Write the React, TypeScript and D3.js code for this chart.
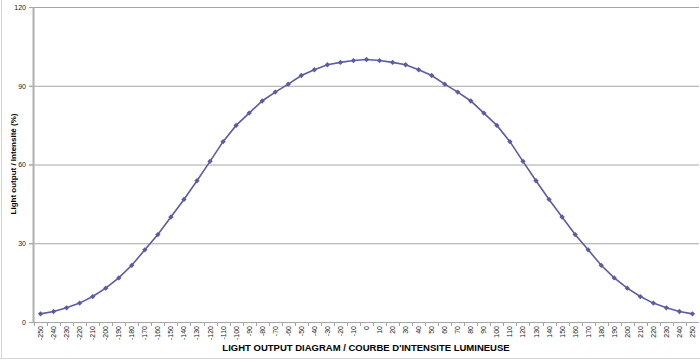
import React from 'react';
import * as d3 from 'd3';

// angles (degrees) read along the bottom axis
const angles = [
  -250, -240, -230, -220, -210, -200, -190, -180, -170, -160, -150, -140, -130,
  -120, -110, -100, -90, -80, -70, -60, -50, -40, -30, -20, -10, 0, 10, 20, 30,
  40, 50, 60, 70, 80, 90, 100, 110, 120, 130, 140, 150, 160, 170, 180, 190, 200,
  210, 220, 230, 240, 250,
];

// light output in %
const intensity = [
  3.1, 4.0, 5.4, 7.2, 9.7, 12.9, 16.8, 21.6, 27.5, 33.3, 40.0, 46.7, 53.8, 61.2,
  68.7, 74.9, 79.6, 84.2, 87.6, 90.6, 93.9, 96.1, 98.0, 98.9, 99.6, 100, 99.6,
  98.9, 98.0, 96.1, 93.9, 90.6, 87.6, 84.2, 79.6, 74.9, 68.7, 61.2, 53.8, 46.7,
  40.0, 33.3, 27.5, 21.6, 16.8, 12.9, 9.7, 7.2, 5.4, 4.0, 3.1,
];

const yTicks = [0, 30, 60, 90, 120];

const xTitle = "LIGHT OUTPUT DIAGRAM / COURBE D'INTENSITE LUMINEUSE";
const yTitle = 'Light output / Intensité (%)';

const W = 700;
const H = 361;
const font = '"Liberation Sans", Arial, sans-serif';
const lineColor = '#5c5ca3';

export default function App() {
  const x = d3
    .scaleBand<string>()
    .domain(angles.map(String))
    .range([34, 699])
    .padding(0);
  const y = d3.scaleLinear().domain([0, 120]).range([322, 7]);

  const cx = (a: number) => (x(String(a)) ?? 0) + x.bandwidth() / 2;

  const points = angles.map((a, i) => [cx(a), y(intensity[i])] as [number, number]);
  const path = d3.line()(points) ?? '';
  const diamond = d3.symbol().type(d3.symbolDiamond2).size(18)() ?? '';

  const baseY = y(0);

  return (
    <svg
      width={W}
      height={H}
      style={{ position: 'absolute', left: 0, top: 0, background: '#fff' }}
      fontFamily={font}
    >
      {/* sheet borders */}
      <line x1={1.5} x2={1.5} y1={0} y2={358} stroke="#d4d4d4" />
      <line x1={0} x2={W} y1={358.5} y2={358.5} stroke="#d4d4d4" />

      {/* gridlines + y ticks */}
      {yTicks.map((t) => (
        <g key={t}>
          {t > 0 && (
            <line x1={29} x2={699} y1={y(t) + 0.5} y2={y(t) + 0.5} stroke="#a6a6a6" />
          )}
          <line x1={29} x2={34} y1={y(t) + 0.5} y2={y(t) + 0.5} stroke="#a6a6a6" />
          <text x={26} y={y(t) + 0.5} dy="0.35em" fontSize={7} textAnchor="end" fill="#222">
            {t}
          </text>
        </g>
      ))}

      {/* axes */}
      <line x1={33.5} x2={33.5} y1={y(120)} y2={baseY + 1} stroke="#b0b0b0" strokeWidth={2} />
      <line x1={33} x2={699} y1={baseY + 0.5} y2={baseY + 0.5} stroke="#a6a6a6" />

      {/* category boundary ticks */}
      {angles.map((a) => (
        <line
          key={'t' + a}
          x1={Math.round(x(String(a)) ?? 0) + 0.5}
          x2={Math.round(x(String(a)) ?? 0) + 0.5}
          y1={baseY}
          y2={baseY + 4}
          stroke="#a6a6a6"
        />
      ))}

      {/* x tick labels, rotated */}
      {angles.map((a) => (
        <text
          key={'l' + a}
          transform={`translate(${cx(a) + 2.5},${baseY + 4}) rotate(-90)`}
          fontSize={7}
          textAnchor="end"
          fill="#222"
        >
          {a}
        </text>
      ))}

      {/* curve */}
      <path d={path} fill="none" stroke={lineColor} strokeWidth={1.6} />
      {points.map(([px, py], i) => (
        <path key={'m' + i} d={diamond} transform={`translate(${px},${py})`} fill={lineColor} />
      ))}

      {/* titles */}
      <text x={366} y={351} fontSize={9.5} fontWeight="bold" textAnchor="middle" fill="#000">
        {xTitle}
      </text>
      <text
        transform="translate(15.5,164) rotate(-90)"
        fontSize={8}
        fontWeight="bold"
        textAnchor="middle"
        fill="#000"
      >
        {yTitle}
      </text>
    </svg>
  );
}
